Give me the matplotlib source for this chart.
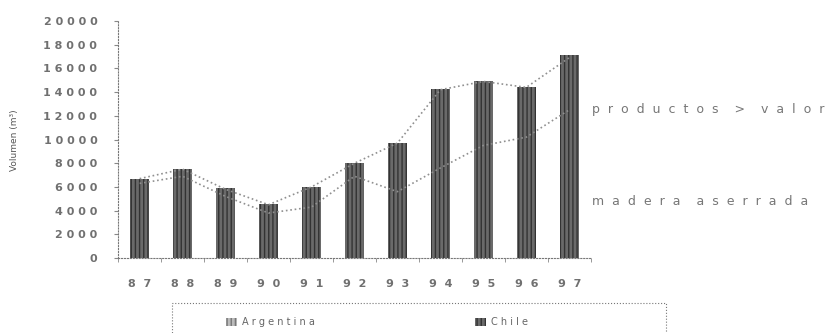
import numpy as np
import matplotlib.pyplot as plt
from matplotlib.patches import Patch, Rectangle

# volúmenes exportados (m3) por año
anios = ['87', '88', '89', '90', '91', '92', '93', '94', '95', '96', '97']
chile = [6700, 7500, 5900, 4600, 6000, 8000, 9700, 14300, 14900, 14400, 17100]
productos_valor = [6700, 7500, 5800, 4500, 6000, 8000, 9700, 14200, 14900, 14400, 16900]
madera_aserrada = [6300, 6900, 5200, 3800, 4300, 6900, 5600, 7600, 9500, 10200, 12500]
yticks = [0, 2000, 4000, 6000, 8000, 10000, 12000, 14000, 16000, 18000, 20000]

def esp(s, n=1):
    # letras separadas con espacios
    return (' ' * n).join(str(s))

fig = plt.figure(figsize=(8.32, 3.33), dpi=100)
ax = fig.add_axes([0.142, 0.225, 0.568, 0.712])

x = np.arange(len(anios))
ax.bar(x, chile, width=0.45, color='#6a6a6a', hatch='||||', edgecolor='#333333', linewidth=0)
ax.plot(x, productos_valor, color='#909090', ls=':', lw=1.2)
ax.plot(x, madera_aserrada, color='#909090', ls=':', lw=1.2)

ax.set_xlim(-0.47, 10.47)
ax.set_ylim(0, 20000)
ax.set_yticks(yticks)
ax.set_yticklabels([esp(v) for v in yticks], fontsize=8, color='#707070', fontweight='bold')
ax.set_xticks(x)
ax.set_xticklabels([esp(a, 2) for a in anios], fontsize=8, color='#707070', fontweight='bold')
ax.tick_params(axis='x', length=0, pad=15)
ax.set_xticks(np.arange(-0.5, 10.6, 1), minor=True)
ax.tick_params(axis='x', which='minor', length=3, color='#888888')
ax.tick_params(axis='y', length=3, color='#888888', pad=12)
for s in ['top', 'right']:
    ax.spines[s].set_visible(False)
for s in ['left', 'bottom']:
    ax.spines[s].set_linestyle(':')
    ax.spines[s].set_color('#777777')

fig.text(0.018, 0.58, 'Volumen (m³)', rotation=90, fontsize=6.5, color='#555555', va='center', ha='center')

fig.text(0.712, 0.67, esp('productos', 2) + '    >    ' + esp('valor', 2),
         fontsize=9, color='#777777', va='center')
fig.text(0.712, 0.394, esp('madera', 2) + '    ' + esp('aserrada', 2),
         fontsize=9, color='#777777', va='center')

# recuadro de la leyenda
fig.add_artist(Rectangle((0.207, -0.1), 0.593, 0.19, transform=fig.transFigure,
                         fill=False, ls=':', lw=0.8, edgecolor='#777777'))
handles = [Patch(facecolor='#bbbbbb', hatch='||||', edgecolor='#777777', lw=0),
           Patch(facecolor='#6a6a6a', hatch='||||', edgecolor='#333333', lw=0)]
leg = fig.legend(handles, [esp('Argentina'), esp('Chile')], loc='center left',
                 bbox_to_anchor=(0.272, 0.032), ncol=2, fontsize=7, frameon=False,
                 columnspacing=16.5, handlelength=1.1, handleheight=0.9,
                 handletextpad=0.5, borderpad=0, borderaxespad=0)
for t in leg.get_texts():
    t.set_color('#666666')

fig.savefig('out.png', dpi=100)
